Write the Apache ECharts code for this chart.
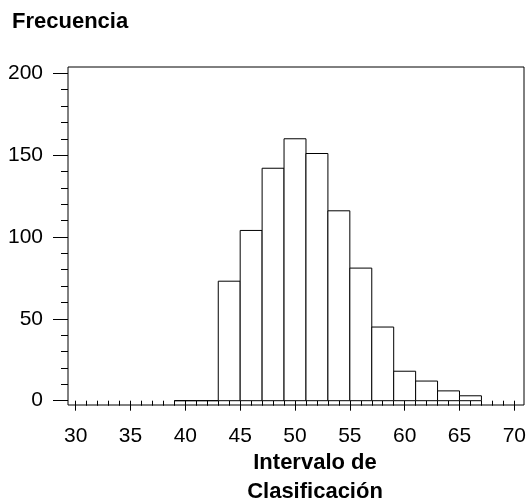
<!DOCTYPE html>
<html>
<head>
<meta charset="utf-8">
<script src="https://cdn.jsdelivr.net/npm/echarts@6/dist/echarts.min.js"></script>
<style>html,body{margin:0;padding:0;background:#fff}#c{width:529px;height:502px}</style>
</head>
<body>
<div id="c"></div>
<script>
// Histogram bins (class intervals) and frequencies
const binStart = [39, 41, 43, 45, 47, 49, 51, 53, 55, 57, 59, 61, 63, 65];
const binEnd   = [41, 43, 45, 47, 49, 51, 53, 55, 57, 59, 61, 63, 65, 67];
const frequency = [0, 0, 73, 104, 142, 160, 151, 116, 81, 45, 18, 12, 6, 3];
const xTicks = [30, 35, 40, 45, 50, 55, 60, 65, 70];
const yTicks = [0, 50, 100, 150, 200];
const yTitle = 'Frecuencia';
const xTitle = 'Intervalo de\nClasificación';

const FONT = '"Liberation Sans", Arial, sans-serif';
const data = binStart.map((s, i) => [s, binEnd[i], frequency[i]]);

const chart = echarts.init(document.getElementById('c'), null, {renderer: 'canvas'});
chart.setOption({
  animation: false,
  backgroundColor: '#fff',
  grid: [
    {left: 75.7, right: 11.7, top: 73.3, bottom: 101.3, show: false},
    {left: 68, right: 5, top: 67, bottom: 97, show: true, borderColor: '#000', borderWidth: 1, backgroundColor: 'transparent', z: 0}
  ],
  xAxis: [
    {
      type: 'value', gridIndex: 0,
      min: xTicks[0], max: xTicks[xTicks.length - 1], interval: 5,
      position: 'bottom', offset: 6,
      axisLine: {show: false},
      axisTick: {show: true, length: 10, inside: false, lineStyle: {color: '#000', width: 1}},
      minorTick: {show: true, splitNumber: 5, length: 5, lineStyle: {color: '#000', width: 1}},
      splitLine: {show: false},
      axisLabel: {show: true, margin: 19, fontSize: 21, color: '#000', fontFamily: FONT}
    },
    {type: 'value', gridIndex: 1, show: false, min: 0, max: 1}
  ],
  yAxis: [
    {
      type: 'value', gridIndex: 0,
      min: yTicks[0], max: yTicks[yTicks.length - 1], interval: 50,
      position: 'left', offset: 7.7,
      axisLine: {show: false},
      axisTick: {show: true, length: 15, inside: false, lineStyle: {color: '#000', width: 1}},
      minorTick: {show: true, splitNumber: 5, length: 7, lineStyle: {color: '#000', width: 1}},
      splitLine: {show: false},
      axisLabel: {show: true, margin: 25, fontSize: 21, color: '#000', fontFamily: FONT, padding: [3, 0, 0, 0]}
    },
    {type: 'value', gridIndex: 1, show: false, min: 0, max: 1}
  ],
  series: [{
    type: 'custom',
    xAxisIndex: 0, yAxisIndex: 0,
    data: data,
    clip: false,
    renderItem: function (params, api) {
      const p0 = api.coord([api.value(0), 0]);
      const p1 = api.coord([api.value(1), api.value(2)]);
      return {
        type: 'rect',
        shape: {x: p0[0], y: p1[1], width: p1[0] - p0[0], height: p0[1] - p1[1]},
        style: {fill: '#fff', stroke: '#000', lineWidth: 1}
      };
    },
    encode: {x: [0, 1], y: 2}
  }],
  graphic: [
    {type: 'text', left: 12, top: 11, style: {text: yTitle, font: 'bold 22px ' + FONT, fill: '#000'}},
    {type: 'text', x: 315, y: 477, style: {text: xTitle, font: 'bold 22px ' + FONT, fill: '#000', align: 'center', verticalAlign: 'middle', lineHeight: 29}}
  ]
});
</script>
</body>
</html>
